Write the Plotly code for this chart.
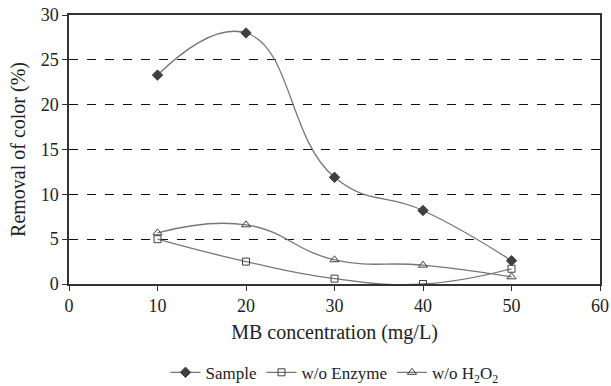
import plotly.graph_objects as go

# MB concentration (mg/L)
conc = [10, 20, 30, 40, 50]
# Removal of color (%)
sample = [23.3, 28.0, 11.9, 8.2, 2.6]
wo_enzyme = [5.0, 2.5, 0.6, 0.0, 1.7]
wo_h2o2 = [5.7, 6.6, 2.7, 2.1, 0.8]

x_ticks = [0, 10, 20, 30, 40, 50, 60]
y_ticks = [0, 5, 10, 15, 20, 25, 30]

line_color = "#777777"
mark_color = "#404040"
font_family = "'Liberation Serif', serif"

fig = go.Figure()
fig.add_trace(go.Scatter(
    x=conc, y=sample, name="Sample", mode="lines+markers",
    line=dict(color=line_color, width=1.3, shape="spline", smoothing=1.3),
    marker=dict(symbol="diamond", size=8, color=mark_color,
                line=dict(color=mark_color, width=1)),
))
fig.add_trace(go.Scatter(
    x=conc, y=wo_enzyme, name="w/o Enzyme", mode="lines+markers",
    line=dict(color=line_color, width=1.3, shape="spline", smoothing=1.3),
    marker=dict(symbol="square-open", size=7, color=mark_color,
                line=dict(color=mark_color, width=1)),
))
fig.add_trace(go.Scatter(
    x=conc, y=wo_h2o2, name="w/o H<sub>2</sub>O<sub>2</sub>", mode="lines+markers",
    line=dict(color=line_color, width=1.3, shape="spline", smoothing=1.3),
    marker=dict(symbol="triangle-up-open", size=8, color=mark_color,
                line=dict(color=mark_color, width=1)),
))

fig.update_layout(
    width=611, height=386,
    margin=dict(l=69, r=11, t=15, b=102, autoexpand=False),
    paper_bgcolor="white", plot_bgcolor="white",
    font=dict(family=font_family, size=18, color="#222"),
    showlegend=True,
    legend=dict(orientation="h", x=0.5, xanchor="center",
                y=-0.33, yanchor="middle",
                font=dict(family=font_family, size=17), itemwidth=30, tracegroupgap=0),
    xaxis=dict(
        range=[0, 60], tickvals=x_ticks, ticks="outside", ticklen=5,
        tickcolor="#333", showline=True, linecolor="#333", linewidth=1.5,
        mirror=True, showgrid=False, zeroline=False, automargin=False,
        tickfont=dict(family=font_family, size=18),
        title=dict(text="MB concentration (mg/L)",
                   font=dict(family=font_family, size=20), standoff=10),
    ),
    yaxis=dict(
        range=[0, 30], tickvals=y_ticks, ticks="outside", ticklen=5,
        tickcolor="#333", showline=True, linecolor="#333", linewidth=1.5,
        mirror=True, showgrid=True, gridcolor="#111", griddash="dash",
        gridwidth=1.2, zeroline=False, automargin=False,
        tickfont=dict(family=font_family, size=18),
        title=dict(text="Removal of color (%)",
                   font=dict(family=font_family, size=20), standoff=10),
    ),
)

fig.write_html("out.html")
